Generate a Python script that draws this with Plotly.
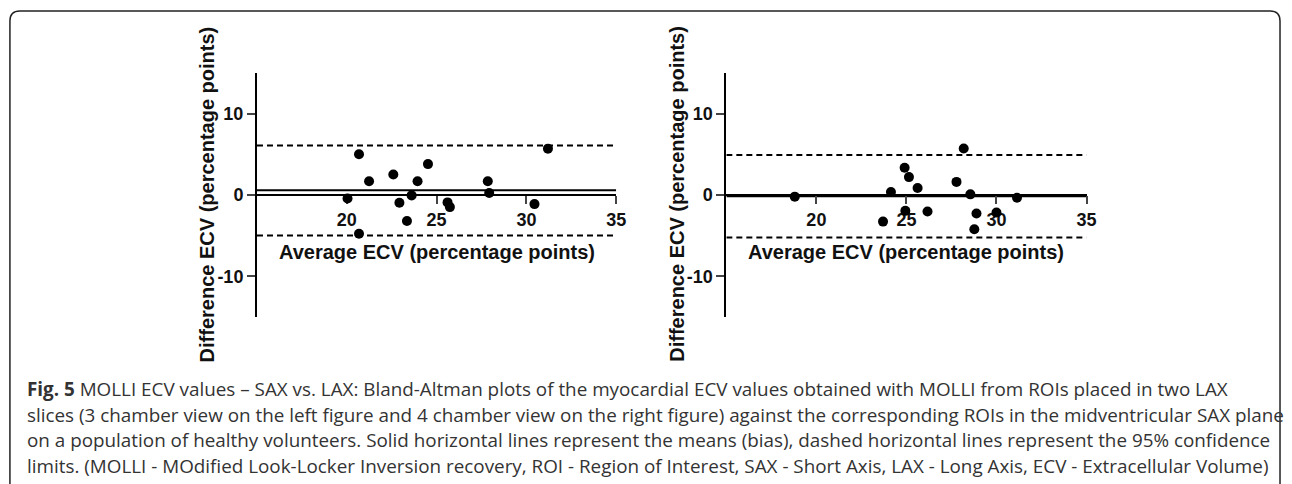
import plotly.graph_objects as go

# ---- data ----
left_avg = [20.68, 21.24, 20.04, 22.59, 22.93, 23.35, 23.61, 23.94, 24.52, 25.61, 25.74, 27.85, 27.93, 20.68, 31.2, 30.45]
left_diff = [5.0, 1.69, -0.42, 2.52, -0.96, -3.19, -0.05, 1.69, 3.8, -0.91, -1.49, 1.69, 0.25, -4.77, 5.7, -1.12]
left_bias = 0.57
left_upper = 6.09
left_lower = -4.97

right_avg = [18.8, 24.14, 24.9, 25.14, 25.62, 24.94, 26.17, 23.7, 28.18, 27.78, 28.55, 31.14, 28.89, 30.0, 28.77]
right_diff = [-0.2, 0.37, 3.35, 2.2, 0.87, -1.95, -2.03, -3.27, 5.71, 1.61, 0.08, -0.33, -2.28, -2.15, -4.22]
right_bias = -0.15
right_upper = 4.93
right_lower = -5.22

x_range = [15, 35]
y_range = [-15, 15]
x_ticks = [20, 25, 30, 35]
y_ticks = [-10, 0, 10]
y_tick_labels = ["-10", "0", "10"]
x_title = "Average ECV (percentage points)"
y_title = "Difference ECV (percentage points)"

caption_lines = [
    "<b>Fig. 5</b> MOLLI ECV values – SAX vs. LAX: Bland-Altman plots of the myocardial ECV values obtained with MOLLI from ROIs placed in two LAX",
    "slices (3 chamber view on the left figure and 4 chamber view on the right figure) against the corresponding ROIs in the midventricular SAX plane",
    "on a population of healthy volunteers. Solid horizontal lines represent the means (bias), dashed horizontal lines represent the 95% confidence",
    "limits. (MOLLI - MOdified Look-Locker Inversion recovery, ROI - Region of Interest, SAX - Short Axis, LAX - Long Axis, ECV - Extracellular Volume)",
]

W, H = 1292, 484
def px(x):
    return x / W
def py(y):
    return 1 - y / H

AX_FONT = "Liberation Sans, Arial, sans-serif"
fig = go.Figure()

panels = [
    dict(avg=left_avg, diff=left_diff, bias=left_bias, up=left_upper, lo=left_lower,
         xa="x", ya="y", dom=[px(259), px(621)], ytitle_x=209),
    dict(avg=right_avg, diff=right_diff, bias=right_bias, up=right_upper, lo=right_lower,
         xa="x2", ya="y2", dom=[px(732), px(1095)], ytitle_x=682),
]

shapes = []
annotations = []
ydom = [py(317), py(73)]
for i, p in enumerate(panels):
    fig.add_trace(go.Scatter(
        x=p["avg"], y=p["diff"], mode="markers", xaxis=p["xa"], yaxis=p["ya"],
        marker=dict(color="black", size=10), showlegend=False, hoverinfo="skip"))
    for val, dash in [(p["bias"], "solid"), (p["up"], "6px,4px"), (p["lo"], "6px,4px")]:
        shapes.append(dict(type="line", xref=p["xa"], yref=p["ya"],
                           x0=x_range[0], x1=x_range[1], y0=val, y1=val,
                           line=dict(color="black", width=2, dash=dash), layer="below"))
    sfx = "" if i == 0 else "2"
    fig.update_layout(**{
        "xaxis" + sfx: dict(domain=p["dom"], range=x_range, anchor="free", position=py(195),
                            tickvals=x_ticks, ticks="outside", ticklen=8, tickwidth=2,
                            showline=True, linecolor="black", linewidth=2,
                            showgrid=False, zeroline=False, layer="below traces",
                            tickfont=dict(family=AX_FONT, size=18, color="#111", weight="bold"),
                            fixedrange=True),
        "yaxis" + sfx: dict(domain=ydom, range=y_range, anchor="x" + sfx,
                            tickvals=y_ticks, ticktext=y_tick_labels,
                            ticks="outside", ticklen=8, tickwidth=2,
                            showline=True, linecolor="black", linewidth=2,
                            showgrid=False, zeroline=False, layer="below traces",
                            tickfont=dict(family=AX_FONT, size=18, color="#111", weight="bold"),
                            fixedrange=True),
    })
    annotations.append(dict(xref="paper", yref="paper", x=px(p["ytitle_x"]), y=py(194),
                            text=y_title, textangle=-90, showarrow=False,
                            xanchor="center", yanchor="middle",
                            font=dict(family=AX_FONT, size=20, color="#111", weight="bold")))
    annotations.append(dict(xref="paper", yref="paper", x=(p["dom"][0] + p["dom"][1]) / 2, y=py(252),
                            text=x_title, showarrow=False, xanchor="center", yanchor="middle",
                            font=dict(family=AX_FONT, size=20, color="#111", weight="bold")))

cap_y = [389, 414.5, 440, 465.5]
for line, yy in zip(caption_lines, cap_y):
    annotations.append(dict(xref="paper", yref="paper", x=px(25), y=py(yy), text=line,
                            showarrow=False, xanchor="left", yanchor="middle",
                            font=dict(family="Open Sans, sans-serif", size=18.85, color="#333")))

# rounded border box
r = 10
x0b, x1b, y0b, yb = 10, 1290, 11, 495
path = (f"M {px(x0b)},{py(yb)} L {px(x0b)},{py(y0b + r)} "
        f"Q {px(x0b)},{py(y0b)} {px(x0b + r)},{py(y0b)} "
        f"L {px(x1b - r)},{py(y0b)} Q {px(x1b)},{py(y0b)} {px(x1b)},{py(y0b + r)} "
        f"L {px(x1b)},{py(yb)}")
shapes.append(dict(type="path", xref="paper", yref="paper", path=path,
                   line=dict(color="#222", width=1.5)))

fig.update_layout(width=W, height=H, margin=dict(l=0, r=0, t=0, b=0),
                  paper_bgcolor="white", plot_bgcolor="white",
                  shapes=shapes, annotations=annotations, showlegend=False)
fig.write_html("out.html", config={"displayModeBar": False},
               post_script="document.body.style.margin='0';document.body.style.overflow='hidden';")
